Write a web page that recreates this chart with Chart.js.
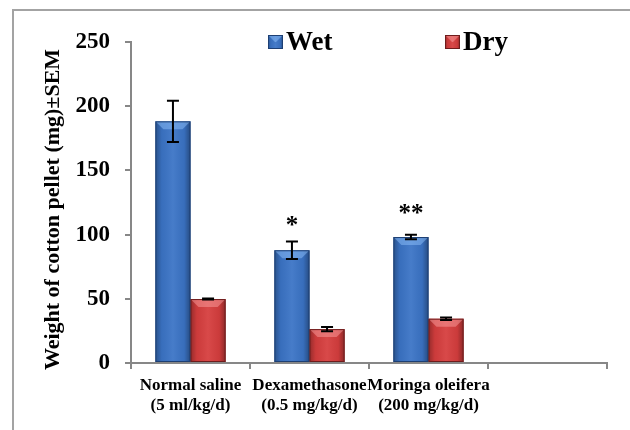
<!DOCTYPE html>
<html>
<head>
<meta charset="utf-8">
<script src="https://cdn.jsdelivr.net/npm/chart.js@4.4.1/dist/chart.umd.min.js"></script>
<style>
  html, body { margin: 0; padding: 0; background: #ffffff; }
  #wrap { width: 630px; height: 430px; position: relative; }
</style>
</head>
<body>
<div id="wrap"><canvas id="c" width="630" height="430"></canvas></div>
<script>
// ---- data ----
const categories = [["Normal saline", "(5 ml/kg/d)"], ["Dexamethasone", "(0.5 mg/kg/d)"], ["Moringa oleifera", "(200 mg/kg/d)"], ""];
const seriesNames = ["Wet", "Dry"];
const wetValues = [188.2, 87.8, 98.1, null];
const wetErrors = [16.1, 6.8, 1.7, null];
const dryValues = [49.8, 26.4, 34.5, null];
const dryErrors = [0.4, 1.7, 1.0, null];
const sigLabels = ["", "*", "**", ""];
const sigValues = [null, 111, 121, null];
const yTicks = [0, 50, 100, 150, 200, 250];
const yTitle = 'Weight of cotton pellet (mg)±SEM';

const FONT = "'Liberation Serif', 'Times New Roman', serif";

const blue = { base: '#3b74c6', dark: '#1d3f73', light: 'rgba(150,200,255,0.45)' };
const red = { base: '#d63e3e', dark: '#6e1c1c', light: 'rgba(255,170,170,0.45)' };
const palette = [blue, red];
const errorSets = [wetErrors, dryErrors];

function bevel(ctx, x0, y0, x1, y1, pal) {
  const w = x1 - x0;
  const g = ctx.createLinearGradient(x0, 0, x1, 0);
  g.addColorStop(0, 'rgba(0,0,0,0.30)');
  g.addColorStop(0.18, 'rgba(0,0,0,0.05)');
  g.addColorStop(0.5, 'rgba(255,255,255,0.06)');
  g.addColorStop(0.82, 'rgba(0,0,0,0.05)');
  g.addColorStop(1, 'rgba(0,0,0,0.35)');
  ctx.fillStyle = g;
  ctx.fillRect(x0, y0, w, y1 - y0);
  const b = Math.min(8, w / 2, (y1 - y0) / 2);
  ctx.beginPath();
  ctx.moveTo(x0, y0);
  ctx.lineTo(x1, y0);
  ctx.lineTo(x1 - b, y0 + b);
  ctx.lineTo(x0 + b, y0 + b);
  ctx.closePath();
  ctx.fillStyle = pal.light;
  ctx.fill();
  ctx.strokeStyle = pal.dark;
  ctx.lineWidth = 1;
  ctx.strokeRect(x0 + 0.5, y0 + 0.5, w - 1, y1 - y0 - 1);
}

const framePlugin = {
  id: 'frame',
  beforeDraw(chart) {
    const ctx = chart.ctx;
    ctx.save();
    ctx.strokeStyle = '#a3a3a3';
    ctx.lineWidth = 2;
    ctx.beginPath();
    ctx.moveTo(630, 10);
    ctx.lineTo(13, 10);
    ctx.lineTo(13, 430);
    ctx.stroke();
    ctx.restore();
  }
};

// y-axis title drawn as real text, centred slightly below the plot-area centre like the original
const yTitlePlugin = {
  id: 'yTitle',
  afterDraw(chart) {
    const ctx = chart.ctx;
    const a = chart.chartArea;
    ctx.save();
    ctx.translate(53, (a.top + a.bottom) / 2 + 7);
    ctx.rotate(-Math.PI / 2);
    ctx.fillStyle = '#000000';
    ctx.font = 'bold 22px ' + FONT;
    ctx.textAlign = 'center';
    ctx.textBaseline = 'middle';
    ctx.fillText(yTitle, 0, 0);
    ctx.restore();
  }
};

const barStylePlugin = {
  id: 'barStyle',
  afterDatasetsDraw(chart) {
    const ctx = chart.ctx;
    const yScale = chart.scales.y;
    ctx.save();
    chart.data.datasets.forEach((ds, di) => {
      const meta = chart.getDatasetMeta(di);
      meta.data.forEach((el, i) => {
        if (ds.data[i] == null) return;
        const x0 = el.x - el.width / 2, x1 = el.x + el.width / 2;
        bevel(ctx, x0, el.y, x1, el.base, palette[di]);
      });
    });
    // error bars
    ctx.strokeStyle = '#000000';
    ctx.lineWidth = 2;
    chart.data.datasets.forEach((ds, di) => {
      const meta = chart.getDatasetMeta(di);
      const errs = errorSets[di];
      meta.data.forEach((el, i) => {
        const v = ds.data[i], e = errs[i];
        if (v == null || e == null) return;
        const yt = yScale.getPixelForValue(v + e);
        const yb = yScale.getPixelForValue(v - e);
        const cap = 6;
        ctx.beginPath();
        ctx.moveTo(el.x, yt); ctx.lineTo(el.x, yb);
        ctx.moveTo(el.x - cap, yt); ctx.lineTo(el.x + cap, yt);
        ctx.moveTo(el.x - cap, yb); ctx.lineTo(el.x + cap, yb);
        ctx.stroke();
      });
    });
    // significance marks above wet bars
    const wetMeta = chart.getDatasetMeta(0);
    ctx.fillStyle = '#000000';
    ctx.font = 'bold 25px ' + FONT;
    ctx.textAlign = 'center';
    ctx.textBaseline = 'alphabetic';
    sigLabels.forEach((s, i) => {
      if (!s || sigValues[i] == null) return;
      const el = wetMeta.data[i];
      const y = yScale.getPixelForValue(sigValues[i]) + 13;
      ctx.fillText(s, el.x, y);
    });
    ctx.restore();
  }
};

const legendPlugin = {
  id: 'customLegend',
  afterDraw(chart) {
    const ctx = chart.ctx;
    const xs = [268, 445];
    ctx.save();
    chart.data.datasets.forEach((ds, di) => {
      const x = xs[di], y = 35;
      ctx.fillStyle = palette[di].base;
      ctx.fillRect(x, y, 15, 14);
      bevel(ctx, x, y, x + 15, y + 14, palette[di]);
      ctx.fillStyle = '#000000';
      ctx.font = 'bold 27px ' + FONT;
      ctx.textAlign = 'left';
      ctx.textBaseline = 'alphabetic';
      ctx.fillText(ds.label, x + 18, 50);
    });
    ctx.restore();
  }
};

new Chart(document.getElementById('c'), {
  type: 'bar',
  data: {
    labels: categories,
    datasets: [
      { label: seriesNames[0], data: wetValues, backgroundColor: blue.base, borderColor: blue.dark, borderWidth: 0 },
      { label: seriesNames[1], data: dryValues, backgroundColor: red.base, borderColor: red.dark, borderWidth: 0 }
    ]
  },
  options: {
    responsive: false,
    animation: false,
    devicePixelRatio: 1,
    layout: { padding: { left: 0, right: 23, top: 42, bottom: 0 } },
    datasets: { bar: { categoryPercentage: 0.59, barPercentage: 1.0 } },
    plugins: {
      legend: { display: false },
      tooltip: { enabled: false }
    },
    scales: {
      x: {
        offset: true,
        grid: { offset: true, drawOnChartArea: false, drawTicks: true, tickLength: 6, color: '#878787', lineWidth: 2 },
        border: { color: '#878787', width: 2 },
        ticks: {
          color: '#000000', font: { family: FONT, size: 17, weight: 'bold', lineHeight: 1.2 },
          padding: 6, maxRotation: 0, minRotation: 0, autoSkip: false
        },
        afterFit(scale) { scale.height = 67; }
      },
      y: {
        min: 0, max: 250,
        afterBuildTicks(scale) { scale.ticks = yTicks.map(v => ({ value: v })); },
        grid: { drawOnChartArea: false, drawTicks: true, tickLength: 6, color: '#878787', lineWidth: 2 },
        border: { color: '#878787', width: 2 },
        ticks: { color: '#000000', font: { family: FONT, size: 23, weight: 'bold' }, padding: 15 },
        title: { display: false },
        afterFit(scale) { scale.width = 131; }
      }
    }
  },
  plugins: [framePlugin, barStylePlugin, legendPlugin, yTitlePlugin]
});
</script>
</body>
</html>
